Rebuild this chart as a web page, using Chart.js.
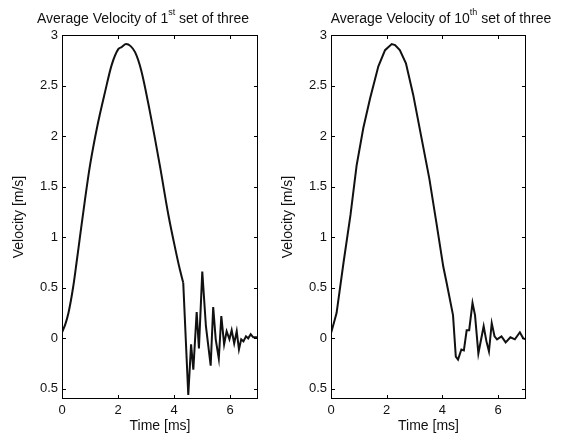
<!DOCTYPE html>
<html>
<head>
<meta charset="utf-8">
<script src="https://cdn.jsdelivr.net/npm/chart.js@4"></script>
<style>
    body { margin: 0; background: #fff; }
    #wrap { position: relative; width: 563px; height: 435px; }
    .box { position: absolute; top: 0; height: 435px; }
</style>
</head>
<body>
<div id="wrap">
    <div class="box" style="left:0;width:280px"><canvas id="chart1"></canvas></div>
    <div class="box" style="left:269px;width:294px"><canvas id="chart2"></canvas></div>
</div>
<script>
// Dữ liệu
const time1 = [0, 0.12, 0.23, 0.40, 0.52, 0.64, 0.82, 1.0, 1.27, 1.54, 1.77, 2.01, 2.13, 2.29, 2.45, 2.61,
    2.83, 3.14, 3.5, 3.8, 4.05, 4.21, 4.33, 4.51, 4.61, 4.69, 4.81, 4.89, 5.01, 5.14, 5.31, 5.40,
    5.49, 5.60, 5.69, 5.79, 5.88, 5.98, 6.06, 6.15, 6.24, 6.32, 6.40, 6.48, 6.57, 6.65, 6.74, 6.83, 6.95, 7.0];
const vel1 = [0.06, 0.14, 0.25, 0.51, 0.75, 1.0, 1.37, 1.71, 2.11, 2.44, 2.70, 2.86, 2.88, 2.91, 2.89, 2.83,
    2.65, 2.24, 1.70, 1.22, 0.88, 0.68, 0.55, -0.56, -0.06, -0.31, 0.26, -0.10, 0.66, 0.12, -0.27, 0.31,
    -0.01, -0.20, 0.22, -0.06, 0.07, -0.01, 0.08, -0.05, 0.07, -0.11, -0.01, -0.03, 0.02, 0.0, 0.04, 0.01, 0.01, 0.0];

const time2 = [0, 0.1, 0.2, 0.45, 0.7, 0.92, 1.16, 1.40, 1.70, 1.94, 2.18, 2.30, 2.47, 2.69, 2.95, 3.25,
    3.53, 3.78, 4.03, 4.15, 4.38, 4.48, 4.56, 4.68, 4.77, 4.87, 4.96, 5.08, 5.17, 5.29, 5.48, 5.58,
    5.67, 5.77, 5.87, 5.96, 6.12, 6.27, 6.44, 6.60, 6.78, 6.90, 7.0];
const vel2 = [0.05, 0.15, 0.25, 0.75, 1.22, 1.71, 2.08, 2.37, 2.69, 2.85, 2.91, 2.90, 2.85, 2.72, 2.41, 1.98,
    1.58, 1.15, 0.71, 0.55, 0.23, -0.18, -0.21, -0.11, -0.12, 0.08, 0.08, 0.35, 0.23, -0.15, 0.12, -0.03,
    -0.13, 0.15, 0.02, -0.01, 0.02, -0.04, 0.01, -0.01, 0.06, 0.0, -0.01];

const xTicks = [0, 2, 4, 6];
const yTicks = [-0.5, 0, 0.5, 1, 1.5, 2, 2.5, 3];
const yTickLabels = ['0.5', '0', '0.5', '1', '1.5', '2', '2.5', '3'];

const FONT = 'Liberation Sans, Arial, sans-serif';

// Khung + vạch chia hướng vào trong + tiêu đề có chỉ số trên
const framePlugin = {
    id: 'frame',
    afterDraw(chart, args, opts) {
        const ctx = chart.ctx;
        const a = chart.chartArea;
        const x = chart.scales.x, y = chart.scales.y;
        ctx.save();
        ctx.strokeStyle = '#000';
        ctx.lineWidth = 1;
        ctx.strokeRect(Math.round(a.left) + 0.5, Math.round(a.top) + 0.5,
            Math.round(a.right - a.left) - 1, Math.round(a.bottom - a.top) - 1);
        const len = 4;
        ctx.beginPath();
        xTicks.forEach(v => {
            const px = Math.round(x.getPixelForValue(v)) + 0.5;
            ctx.moveTo(px, a.bottom); ctx.lineTo(px, a.bottom - len);
            ctx.moveTo(px, a.top); ctx.lineTo(px, a.top + len);
        });
        yTicks.forEach(v => {
            const py = Math.round(y.getPixelForValue(v)) + 0.5;
            ctx.moveTo(a.left, py); ctx.lineTo(a.left + len, py);
            ctx.moveTo(a.right, py); ctx.lineTo(a.right - len, py);
        });
        ctx.stroke();

        // tiêu đề
        ctx.fillStyle = '#111';
        ctx.textBaseline = 'alphabetic';
        ctx.font = '14px ' + FONT;
        const w1 = ctx.measureText(opts.pre).width;
        const w3 = ctx.measureText(opts.post).width;
        ctx.font = '9px ' + FONT;
        const w2 = ctx.measureText(opts.sup).width;
        let sx = opts.cx - (w1 + w2 + w3) / 2;
        ctx.font = '14px ' + FONT;
        ctx.fillText(opts.pre, sx, 23);
        ctx.font = '9px ' + FONT;
        ctx.fillText(opts.sup, sx + w1, 15);
        ctx.font = '14px ' + FONT;
        ctx.fillText(opts.post, sx + w1 + w2, 23);
        ctx.restore();
    }
};

function makeChart(id, times, vels, title, padRight, smoothTo) {
    const points = times.map((t, i) => ({ x: t, y: vels[i] }));
    // phần xung trơn vẽ mềm, phần dao động vẽ thẳng
    const cut = smoothTo ? times.indexOf(smoothTo) : -1;
    const sets = cut > 0
        ? [points.slice(0, cut + 1), points.slice(cut)]
        : [points];
    return new Chart(document.getElementById(id), {
        type: 'line',
        data: {
            datasets: sets.map((pts, k) => ({
                data: pts,
                borderColor: '#111',
                borderWidth: 2,
                pointRadius: 0,
                cubicInterpolationMode: (cut > 0 && k === 0) ? 'monotone' : 'default',
                tension: 0,
                fill: false
            }))
        },
        options: {
            responsive: false,
            animation: false,
            layout: { padding: { left: 7, right: padRight, top: 35, bottom: 0 } },
            plugins: {
                legend: { display: false },
                tooltip: { enabled: false },
                frame: title
            },
            scales: {
                x: {
                    type: 'linear',
                    min: 0,
                    max: 7,
                    afterBuildTicks: s => { s.ticks = xTicks.map(v => ({ value: v })); },
                    afterFit: s => { s.height = 36; },
                    grid: { display: false, drawTicks: false },
                    border: { display: false },
                    ticks: { color: '#111', font: { family: FONT, size: 13 }, padding: 4, maxRotation: 0 },
                    title: { display: true, text: 'Time [ms]', color: '#111', font: { family: FONT, size: 14 }, padding: { top: 0, bottom: 0 } }
                },
                y: {
                    min: -0.6,
                    max: 3,
                    afterBuildTicks: s => { s.ticks = yTicks.map(v => ({ value: v })); },
                    afterFit: s => { s.width = 55; },
                    grid: { display: false, drawTicks: false },
                    border: { display: false },
                    ticks: {
                        color: '#111',
                        font: { family: FONT, size: 13 },
                        padding: 4,
                        callback: v => yTickLabels[yTicks.indexOf(v)]
                    },
                    title: { display: true, text: 'Velocity [m/s]', color: '#111', font: { family: FONT, size: 14 }, padding: { top: 4, bottom: 4 } }
                }
            }
        },
        plugins: [framePlugin]
    });
}

document.getElementById('chart1').width = 280;
document.getElementById('chart1').height = 435;
document.getElementById('chart2').width = 294;
document.getElementById('chart2').height = 435;

makeChart('chart1', time1, vel1, { pre: 'Average Velocity of 1', sup: 'st', post: ' set of three', cx: 143 }, 22, 4.33);
makeChart('chart2', time2, vel2, { pre: 'Average Velocity of 10', sup: 'th', post: ' set of three', cx: 172 }, 37, 0);
</script>
</body>
</html>
